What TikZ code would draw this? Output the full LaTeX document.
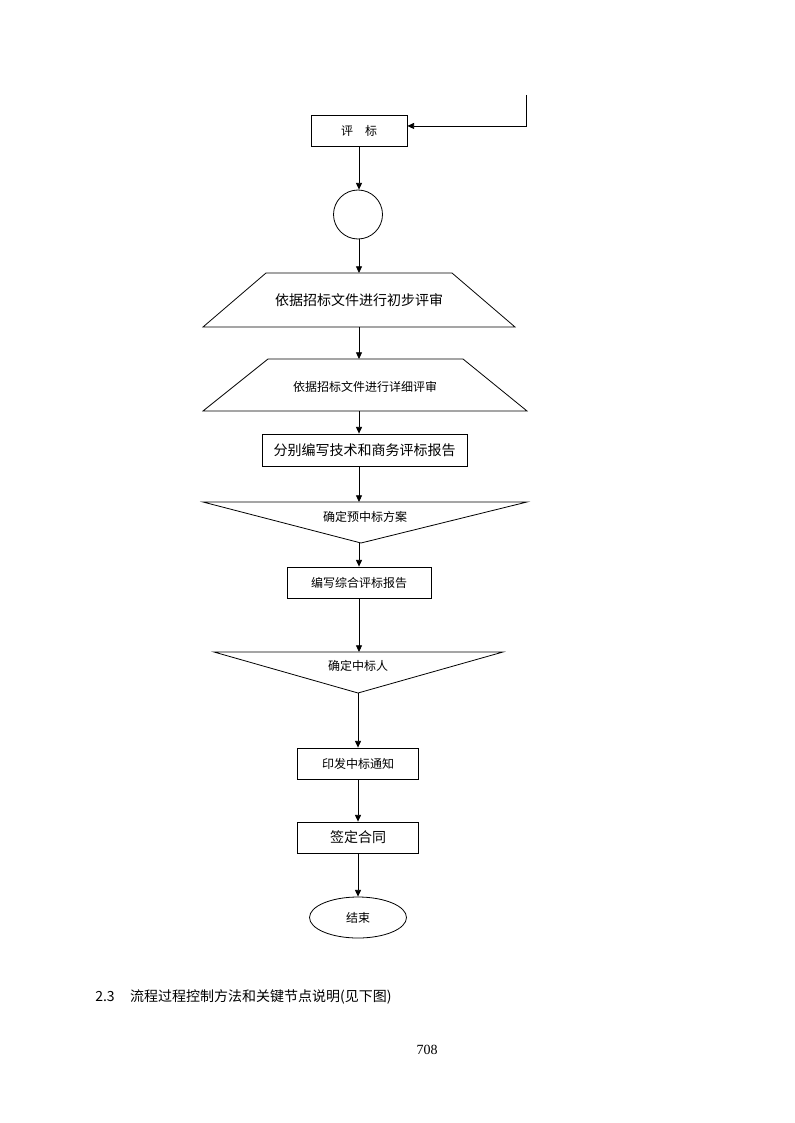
\documentclass[tikz,border=0pt]{standalone}
\usepackage{fontspec}
\setmainfont{Liberation Serif}
\newfontfamily\cjk{Noto Sans CJK SC}
\usetikzlibrary{shapes.geometric,arrows.meta}

\begin{document}
\begin{tikzpicture}[x=0.75pt,y=-0.75pt,
    every node/.style={inner sep=0pt,font=\cjk\fontsize{9}{11}\selectfont},
    big/.style={font=\cjk\fontsize{10.5}{12}\selectfont},
    frame/.style={draw,line width=0.6pt},
    flow/.style={line width=0.6pt,-{Triangle[length=5pt,width=4.5pt]}},
    stepbox/.style={frame,rectangle,minimum height=31*0.75pt}]
  \useasboundingbox (0,0) rectangle (794,1123);

  % main column
  \node[stepbox,minimum width=96*0.75pt] (eval) at (359,130.5) {评　标};
  \node[frame,circle,minimum size=49*0.75pt] (link) at (358,214.5) {};

  \node[big] (first) at (359,300) {依据招标文件进行初步评审};
  \draw[frame] (266,273) coordinate (first-top) -- (452,273) -- (515,327)
    -- (203,327) coordinate (first-bot) -- cycle;

  \node (detail) at (365,387) {依据招标文件进行详细评审};
  \draw[frame] (268,359) coordinate (detail-top) -- (463,359) -- (527,411)
    -- (203,411) coordinate (detail-bot) -- cycle;

  \node[stepbox,big,minimum width=205*0.75pt,minimum height=32*0.75pt]
    (report) at (364.5,450) {分别编写技术和商务评标报告};

  \node (pre) at (365,517) {确定预中标方案};
  \draw[frame] (203,502) coordinate (pre-top) -- (527,502) -- (361,543) coordinate (pre-tip) -- cycle;

  \node[stepbox,minimum width=144*0.75pt] (summary) at (359,582.5) {编写综合评标报告};

  \node (win) at (358,666) {确定中标人};
  \draw[frame] (214,652) coordinate (win-top) -- (503,652) -- (358,693) coordinate (win-tip) -- cycle;

  \node[stepbox,minimum width=121*0.75pt] (notice) at (358,763.5) {印发中标通知};
  \node[stepbox,big,minimum width=121*0.75pt] (contract) at (358,837.5) {签定合同};
  \node[frame,ellipse,minimum width=97*0.75pt,minimum height=41*0.75pt] (done) at (358,917.5) {结束};

  % connectors
  \coordinate (back) at (526,95);
  \draw[flow] (back) |- ([yshift=3.4pt]eval.east);
  \draw[flow] (eval.south) -- (eval.south |- link.north);
  \draw[flow] (eval.south |- link.south) -- (eval.south |- first-top);
  \draw[flow] (eval.south |- first-bot) -- (eval.south |- detail-top);
  \draw[flow] (eval.south |- detail-bot) -- (eval.south |- report.north);
  \draw[flow] (eval.south |- report.south) -- (eval.south |- pre-top);
  \draw[flow] (summary.north |- pre-tip) -- (summary.north);
  \draw[flow] (summary.south) -- (summary.south |- win-top);
  \draw[flow] (win-tip) -- (notice.north);
  \draw[flow] (notice.south) -- (contract.north);
  \draw[flow] (contract.south) -- (done.north);

  % text below
  \node[big,anchor=west] (caption) at (95,997) {2.3\hspace{1.1em}流程过程控制方法和关键节点说明(见下图)};
  \node[font=\rmfamily\fontsize{10.5}{12}\selectfont] (page) at (427,1050) {708};
\end{tikzpicture}
\end{document}
